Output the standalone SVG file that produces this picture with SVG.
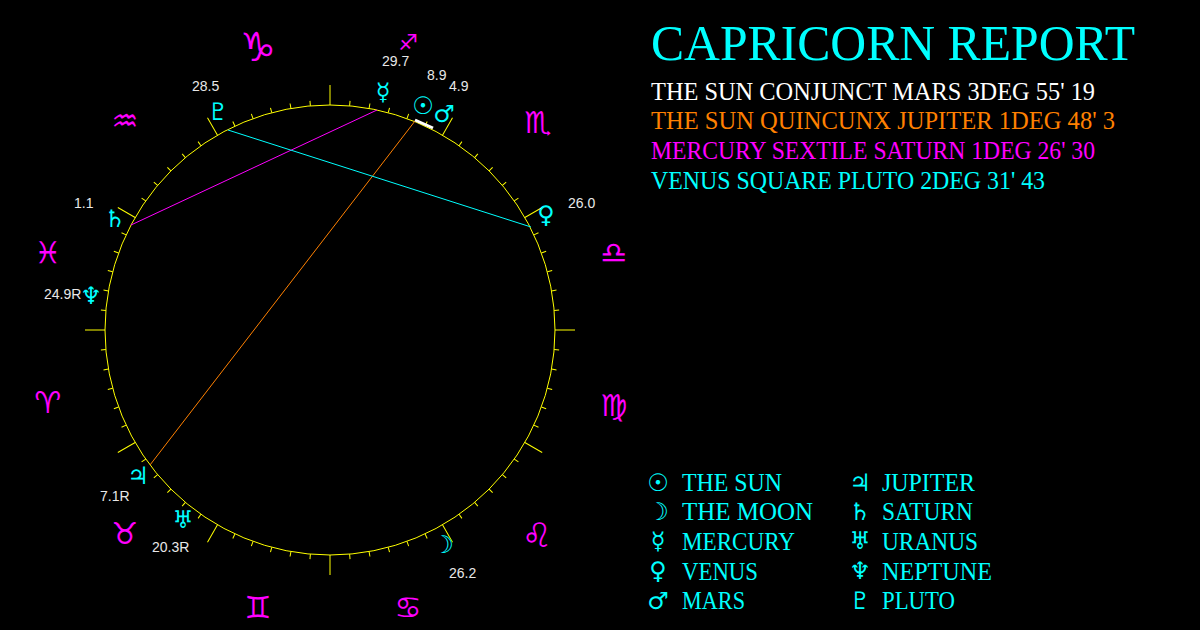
<svg xmlns="http://www.w3.org/2000/svg" xmlns:xlink="http://www.w3.org/1999/xlink" width="1200" height="630" viewBox="0 0 1200 630">
<style>
.sign{font-family:"DejaVu Sans",sans-serif;font-size:30px;fill:#ff00ff;text-anchor:middle;dominant-baseline:central}
.pl{font-family:"DejaVu Sans",sans-serif;font-size:24px;fill:#00ffff;text-anchor:middle;dominant-baseline:central}
.lbl{font-family:"Liberation Sans",Arial,sans-serif;font-size:14px;fill:#e8e8e8}
.hd{font-family:"Liberation Serif","Times New Roman",serif}
.leg{font-family:"Liberation Serif","Times New Roman",serif;font-size:25px;fill:#00ffff}
.tk{stroke:#ffff00;stroke-width:1}
</style>
<defs>
<line id="st" class="tk" x1="330" y1="105" x2="330" y2="100"/>
<line id="lt" class="tk" x1="330" y1="105" x2="330" y2="85"/>
</defs>
<rect width="1200" height="630" fill="#000"/>
<g id="wheel">
<circle cx="330" cy="330" r="225" fill="none" stroke="#ffff00" stroke-width="1"/>
<use xlink:href="#lt"/>
<use xlink:href="#st" transform="rotate(5 330 330)"/>
<use xlink:href="#st" transform="rotate(10 330 330)"/>
<use xlink:href="#st" transform="rotate(15 330 330)"/>
<use xlink:href="#st" transform="rotate(20 330 330)"/>
<use xlink:href="#st" transform="rotate(25 330 330)"/>
<use xlink:href="#lt" transform="rotate(30 330 330)"/>
<use xlink:href="#st" transform="rotate(35 330 330)"/>
<use xlink:href="#st" transform="rotate(40 330 330)"/>
<use xlink:href="#st" transform="rotate(45 330 330)"/>
<use xlink:href="#st" transform="rotate(50 330 330)"/>
<use xlink:href="#st" transform="rotate(55 330 330)"/>
<use xlink:href="#lt" transform="rotate(60 330 330)"/>
<use xlink:href="#st" transform="rotate(65 330 330)"/>
<use xlink:href="#st" transform="rotate(70 330 330)"/>
<use xlink:href="#st" transform="rotate(75 330 330)"/>
<use xlink:href="#st" transform="rotate(80 330 330)"/>
<use xlink:href="#st" transform="rotate(85 330 330)"/>
<use xlink:href="#lt" transform="rotate(90 330 330)"/>
<use xlink:href="#st" transform="rotate(95 330 330)"/>
<use xlink:href="#st" transform="rotate(100 330 330)"/>
<use xlink:href="#st" transform="rotate(105 330 330)"/>
<use xlink:href="#st" transform="rotate(110 330 330)"/>
<use xlink:href="#st" transform="rotate(115 330 330)"/>
<use xlink:href="#lt" transform="rotate(120 330 330)"/>
<use xlink:href="#st" transform="rotate(125 330 330)"/>
<use xlink:href="#st" transform="rotate(130 330 330)"/>
<use xlink:href="#st" transform="rotate(135 330 330)"/>
<use xlink:href="#st" transform="rotate(140 330 330)"/>
<use xlink:href="#st" transform="rotate(145 330 330)"/>
<use xlink:href="#lt" transform="rotate(150 330 330)"/>
<use xlink:href="#st" transform="rotate(155 330 330)"/>
<use xlink:href="#st" transform="rotate(160 330 330)"/>
<use xlink:href="#st" transform="rotate(165 330 330)"/>
<use xlink:href="#st" transform="rotate(170 330 330)"/>
<use xlink:href="#st" transform="rotate(175 330 330)"/>
<use xlink:href="#lt" transform="rotate(180 330 330)"/>
<use xlink:href="#st" transform="rotate(185 330 330)"/>
<use xlink:href="#st" transform="rotate(190 330 330)"/>
<use xlink:href="#st" transform="rotate(195 330 330)"/>
<use xlink:href="#st" transform="rotate(200 330 330)"/>
<use xlink:href="#st" transform="rotate(205 330 330)"/>
<use xlink:href="#lt" transform="rotate(210 330 330)"/>
<use xlink:href="#st" transform="rotate(215 330 330)"/>
<use xlink:href="#st" transform="rotate(220 330 330)"/>
<use xlink:href="#st" transform="rotate(225 330 330)"/>
<use xlink:href="#st" transform="rotate(230 330 330)"/>
<use xlink:href="#st" transform="rotate(235 330 330)"/>
<use xlink:href="#lt" transform="rotate(240 330 330)"/>
<use xlink:href="#st" transform="rotate(245 330 330)"/>
<use xlink:href="#st" transform="rotate(250 330 330)"/>
<use xlink:href="#st" transform="rotate(255 330 330)"/>
<use xlink:href="#st" transform="rotate(260 330 330)"/>
<use xlink:href="#st" transform="rotate(265 330 330)"/>
<use xlink:href="#lt" transform="rotate(270 330 330)"/>
<use xlink:href="#st" transform="rotate(275 330 330)"/>
<use xlink:href="#st" transform="rotate(280 330 330)"/>
<use xlink:href="#st" transform="rotate(285 330 330)"/>
<use xlink:href="#st" transform="rotate(290 330 330)"/>
<use xlink:href="#st" transform="rotate(295 330 330)"/>
<use xlink:href="#lt" transform="rotate(300 330 330)"/>
<use xlink:href="#st" transform="rotate(305 330 330)"/>
<use xlink:href="#st" transform="rotate(310 330 330)"/>
<use xlink:href="#st" transform="rotate(315 330 330)"/>
<use xlink:href="#st" transform="rotate(320 330 330)"/>
<use xlink:href="#st" transform="rotate(325 330 330)"/>
<use xlink:href="#lt" transform="rotate(330 330 330)"/>
<use xlink:href="#st" transform="rotate(335 330 330)"/>
<use xlink:href="#st" transform="rotate(340 330 330)"/>
<use xlink:href="#st" transform="rotate(345 330 330)"/>
<use xlink:href="#st" transform="rotate(350 330 330)"/>
<use xlink:href="#st" transform="rotate(355 330 330)"/>
</g>
<g id="connectors" fill="none" stroke-width="1">
<line x1="415" y1="121" x2="150" y2="465" stroke="#ff8000"/>
<line x1="377" y1="110" x2="131" y2="225" stroke="#ff00ff"/>
<line x1="228" y1="130" x2="531" y2="227" stroke="#00ffff"/>
<line x1="415" y1="120" x2="433" y2="128" stroke="#ffffff" stroke-width="3"/>
</g>
<g id="signs">
<text id="capricorn" class="sign" x="258" y="47" style="font-size:40px">♑&#xFE0E;</text>
<text id="sagittarius" class="sign" x="408" y="42" style="font-size:22px">♐&#xFE0E;</text>
<text id="scorpio" class="sign" x="538" y="122">♏&#xFE0E;</text>
<text id="libra" class="sign" x="614" y="252">♎&#xFE0E;</text>
<text id="virgo" class="sign" x="614" y="405">♍&#xFE0E;</text>
<text id="leo" class="sign" x="537" y="535" style="font-size:34px">♌&#xFE0E;</text>
<text id="cancer" class="sign" x="408" y="607">♋&#xFE0E;</text>
<text id="gemini" class="sign" x="258" y="607">♊&#xFE0E;</text>
<text id="taurus" class="sign" x="125" y="533">♉&#xFE0E;</text>
<text id="aries" class="sign" x="48" y="402">♈&#xFE0E;</text>
<text id="pisces" class="sign" x="48" y="252">♓&#xFE0E;</text>
<text id="aquarius" class="sign" x="125" y="120">♒&#xFE0E;</text>
</g>
<g id="planets">
<g id="p-mercury"><text class="pl" x="383" y="92">☿</text><text class="lbl" x="382" y="66">29.7</text></g>
<g id="p-sun"><text class="pl" x="423" y="106">☉</text><text class="lbl" x="427" y="80">8.9</text></g>
<g id="p-mars"><text class="pl" x="444" y="114">♂</text><text class="lbl" x="449" y="91">4.9</text></g>
<g id="p-pluto"><text class="pl" x="218" y="112">♇</text><text class="lbl" x="192" y="91">28.5</text></g>
<g id="p-venus"><text class="pl" x="546" y="215">♀</text><text class="lbl" x="568" y="208">26.0</text></g>
<g id="p-saturn"><text class="pl" x="115" y="219">♄</text><text class="lbl" x="74" y="208">1.1</text></g>
<g id="p-neptune"><text class="pl" x="91" y="296">♆</text><text class="lbl" x="44" y="299">24.9R</text></g>
<g id="p-jupiter"><text class="pl" x="138" y="476">♃</text><text class="lbl" x="100" y="501">7.1R</text></g>
<g id="p-uranus"><text class="pl" x="183" y="520">♅</text><text class="lbl" x="152" y="552">20.3R</text></g>
<g id="p-moon"><text class="pl" x="443" y="545">☽</text><text class="lbl" x="449" y="578">26.2</text></g>
</g>
<g id="title">
<text class="hd" x="651" y="60" font-size="50" fill="#00ffff" textLength="484" lengthAdjust="spacingAndGlyphs">CAPRICORN REPORT</text>
</g>
<g id="aspects-text" class="hd" font-size="25">
<text x="651" y="100" fill="#ffffff" textLength="444" lengthAdjust="spacingAndGlyphs">THE SUN CONJUNCT MARS 3DEG 55' 19</text>
<text x="651" y="129" fill="#ff8000" textLength="464" lengthAdjust="spacingAndGlyphs">THE SUN QUINCUNX JUPITER 1DEG 48' 3</text>
<text x="651" y="159" fill="#ff00ff" textLength="444" lengthAdjust="spacingAndGlyphs">MERCURY SEXTILE SATURN 1DEG 26' 30</text>
<text x="651" y="189" fill="#00ffff" textLength="394" lengthAdjust="spacingAndGlyphs">VENUS SQUARE PLUTO 2DEG 31' 43</text>
</g>
<g id="legend">
<g id="leg-sun"><text class="pl" x="658" y="483">☉</text><text class="leg" x="682" y="491" textLength="100" lengthAdjust="spacingAndGlyphs">THE SUN</text></g>
<g id="leg-moon"><text class="pl" x="658" y="512">☽</text><text class="leg" x="682" y="520" textLength="131" lengthAdjust="spacingAndGlyphs">THE MOON</text></g>
<g id="leg-mercury"><text class="pl" x="658" y="541">☿</text><text class="leg" x="682" y="550" textLength="113" lengthAdjust="spacingAndGlyphs">MERCURY</text></g>
<g id="leg-venus"><text class="pl" x="658" y="571">♀</text><text class="leg" x="682" y="580" textLength="76" lengthAdjust="spacingAndGlyphs">VENUS</text></g>
<g id="leg-mars"><text class="pl" x="658" y="601">♂</text><text class="leg" x="682" y="609" textLength="63" lengthAdjust="spacingAndGlyphs">MARS</text></g>
<g id="leg-jupiter"><text class="pl" x="860" y="483">♃</text><text class="leg" x="882" y="491" textLength="93" lengthAdjust="spacingAndGlyphs">JUPITER</text></g>
<g id="leg-saturn"><text class="pl" x="860" y="512">♄</text><text class="leg" x="882" y="520" textLength="91" lengthAdjust="spacingAndGlyphs">SATURN</text></g>
<g id="leg-uranus"><text class="pl" x="860" y="541">♅</text><text class="leg" x="882" y="550" textLength="96" lengthAdjust="spacingAndGlyphs">URANUS</text></g>
<g id="leg-neptune"><text class="pl" x="860" y="571">♆</text><text class="leg" x="882" y="580" textLength="110" lengthAdjust="spacingAndGlyphs">NEPTUNE</text></g>
<g id="leg-pluto"><text class="pl" x="860" y="601">♇</text><text class="leg" x="882" y="609" textLength="73" lengthAdjust="spacingAndGlyphs">PLUTO</text></g>
</g>
</svg>
